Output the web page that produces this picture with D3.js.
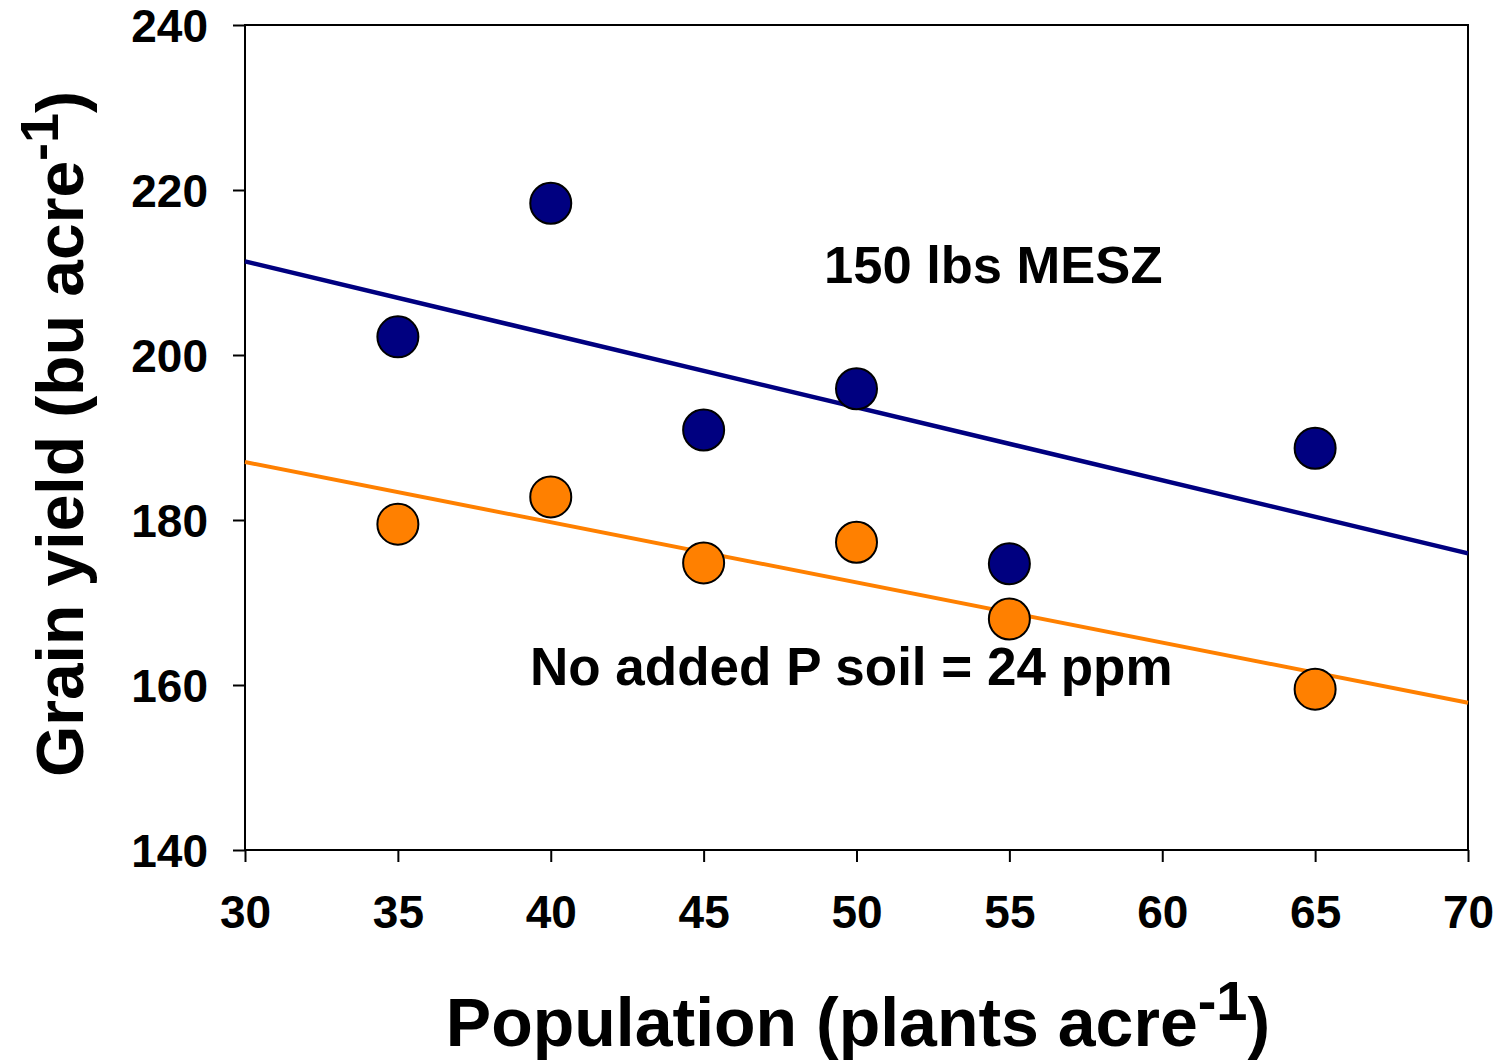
<!DOCTYPE html>
<html>
<head>
<meta charset="utf-8">
<script src="https://cdn.jsdelivr.net/npm/d3@7"></script>
<style>
  body { margin: 0; background: #fff; }
  svg { display: block; font-family: "Liberation Sans", Arial, sans-serif; font-weight: bold; }
</style>
</head>
<body>
<svg></svg>
<script>
const population = [35, 40, 45, 50, 55, 65];
const yieldMESZ = [202.2, 218.4, 190.9, 195.9, 174.7, 188.7]; // 150 lbs MESZ
const yieldNoP = [179.5, 182.8, 174.8, 177.3, 168.0, 159.5]; // no added P
const xTicks = [30, 35, 40, 45, 50, 55, 60, 65, 70];
const yTicks = [140, 160, 180, 200, 220, 240];

const width = 1499,
  height = 1060;

const plot = { left: 245, right: 1468, top: 25, bottom: 850 };

const svg = d3.select("svg").attr("width", width).attr("height", height);

svg.append("rect").attr("width", width).attr("height", height).attr("fill", "#fff");

const x = d3.scaleLinear().domain([30, 70]).range([plot.left, plot.right]);
const y = d3.scaleLinear().domain([140, 240]).range([plot.bottom, plot.top]);

// least squares fit, drawn across the whole x domain
function fit(xs, ys) {
  const mx = d3.mean(xs), my = d3.mean(ys);
  const b = d3.sum(xs, (v, i) => (v - mx) * (ys[i] - my)) / d3.sum(xs, (v) => (v - mx) ** 2);
  return x.domain().map((v) => ({ x: v, y: my + b * (v - mx) }));
}

const series = [
  { values: yieldMESZ, color: "#000080", lw: 4.5 },
  { values: yieldNoP, color: "#ff8000", lw: 4 },
];

// axes
const yAxis = svg
  .append("g")
  .attr("transform", `translate(${plot.left},0)`)
  .call(d3.axisLeft(y).tickValues(yTicks).tickSize(12).tickSizeOuter(0).tickPadding(25));

const xAxis = svg
  .append("g")
  .attr("transform", `translate(0,${plot.bottom})`)
  .call(d3.axisBottom(x).tickValues(xTicks).tickSize(12).tickSizeOuter(0).tickPadding(33));

[yAxis, xAxis].forEach((a) => {
  a.select(".domain").remove();
  a.selectAll("line").attr("stroke", "#000").attr("stroke-width", 2);
  a.selectAll("text")
    .attr("fill", "#000")
    .style("font-size", "46px")
    .style("font-family", "'Liberation Sans', Arial, sans-serif")
    .style("font-weight", "bold");
});
yAxis.selectAll("text").attr("dy", "0.36em");

// frame
svg
  .append("rect")
  .attr("x", plot.left)
  .attr("y", plot.top)
  .attr("width", plot.right - plot.left)
  .attr("height", plot.bottom - plot.top)
  .attr("fill", "none")
  .attr("stroke", "#000")
  .attr("stroke-width", 2);

const line = d3.line().x((d) => x(d.x)).y((d) => y(d.y));

series.forEach((s) => {
  svg
    .append("path")
    .attr("d", line(fit(population, s.values)))
    .attr("fill", "none")
    .attr("stroke", s.color)
    .attr("stroke-width", s.lw);
});

series.forEach((s) => {
  svg
    .append("g")
    .selectAll("circle")
    .data(population)
    .enter()
    .append("circle")
    .attr("cx", (d) => x(d))
    .attr("cy", (d, i) => y(s.values[i]))
    .attr("r", 20.5)
    .attr("fill", s.color)
    .attr("stroke", "#000")
    .attr("stroke-width", 2);
});

// annotations
svg.append("text").attr("x", 824).attr("y", 283).style("font-size", "52.5px").text("150 lbs MESZ");
svg.append("text").attr("x", 530).attr("y", 685).style("font-size", "53px").text("No added P soil = 24 ppm");

// axis titles
const xt = svg
  .append("text")
  .attr("x", 858)
  .attr("y", 1046)
  .attr("text-anchor", "middle")
  .style("font-size", "68px");
xt.append("tspan").text("Population (plants acre");
xt.append("tspan").attr("dy", -26).style("font-size", "56px").text("-1");
xt.append("tspan").attr("dy", 26).text(")");

const yt = svg
  .append("text")
  .attr("transform", "translate(83,434) rotate(-90)")
  .attr("text-anchor", "middle")
  .style("font-size", "66px");
yt.append("tspan").text("Grain yield (bu acre");
yt.append("tspan").attr("dy", -25).style("font-size", "54px").text("-1");
yt.append("tspan").attr("dy", 25).text(")");
</script>
</body>
</html>
